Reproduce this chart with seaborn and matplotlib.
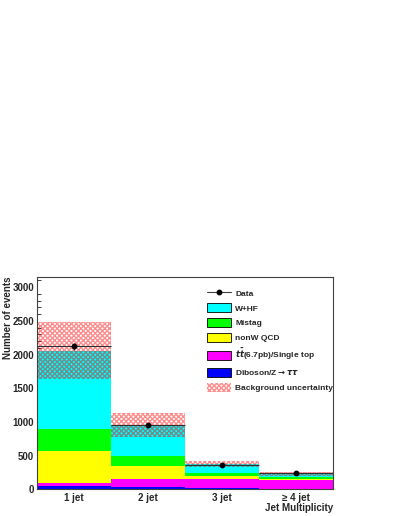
import numpy as np
import pandas as pd
import seaborn as sns
import matplotlib.pyplot as plt
from matplotlib.patches import Patch
from matplotlib.lines import Line2D
from matplotlib.ticker import MultipleLocator

# bins and background components (events per bin)
bins = ['1 jet', '2 jet', '3 jet', '≥ 4 jet']
whf = [1165, 460, 127, 49]
mistag = [325, 145, 50, 21]
nonw_qcd = [470, 200, 48, 19]
top = [55, 115, 137, 131]
diboson = [45, 40, 15, 10]
bkg_unc = [420, 175, 47, 30]
data = [2120, 950, 360, 245]

names = ['W+HF', 'Mistag', 'nonW QCD', r'$t\bar{t}$(6.7pb)/Single top', r'Diboson/Z$\rightarrow\tau\tau$']
colors = ['#00ffff', '#00ff00', '#ffff00', '#ff00ff', '#0000ff']
hatch_col = (1.0, 0.0, 0.0, 0.45)

sns.set_style('white')
plt.rcParams['font.family'] = ['Liberation Sans', 'DejaVu Sans']
plt.rcParams['font.weight'] = 'bold'
plt.rcParams['hatch.linewidth'] = 1.0

rows = []
for name, vals in zip(names, [whf, mistag, nonw_qcd, top, diboson]):
    for i, v in enumerate(vals):
        rows.append({'bin': i, 'comp': name, 'n': v})
df = pd.DataFrame(rows)

fig = plt.figure(figsize=(3.99, 5.16), dpi=100)
ax = fig.add_axes([0.0927, 0.0514, 0.742, 0.4118])

sns.histplot(data=df, x='bin', weights='n', hue='comp', hue_order=names,
             palette=colors, multiple='stack', discrete=True, shrink=1,
             element='bars', fill=True, alpha=1, linewidth=0, legend=False, ax=ax)

# uncertainty band around the stack total
x = np.arange(len(bins))
total = np.sum([whf, mistag, nonw_qcd, top, diboson], axis=0)
unc = np.array(bkg_unc)
ax.bar(x, 2 * unc, bottom=total - unc, width=1, facecolor='none',
       edgecolor=hatch_col, hatch='xxxxxxx', linewidth=0)

# data points
ax.errorbar(x, data, xerr=0.5, yerr=np.sqrt(data), fmt='o', color='black',
            markersize=3.2, ecolor='#303030', elinewidth=0.8, capsize=0)

ax.set_xlim(-0.5, 3.5)
ax.set_ylim(0, 3150)
ax.set_xticks(x)
ax.set_xticklabels(bins)
ax.yaxis.set_major_locator(MultipleLocator(500))
ax.yaxis.set_minor_locator(MultipleLocator(100))
ax.tick_params(axis='y', which='major', direction='in', length=6, width=0.7,
               labelsize=7, pad=2, color='#404040')
ax.tick_params(axis='y', which='minor', direction='in', length=3, width=0.7,
               left=True, color='#404040')
ax.tick_params(axis='x', which='major', direction='in', length=4, width=0.7,
               labelsize=7, pad=2.5, bottom=True, color='#404040')
for s in ax.spines.values():
    s.set_color('#404040')
    s.set_linewidth(0.8)

ax.set_ylabel('Number of events', fontsize=7, fontweight='bold', loc='top')
ax.yaxis.set_label_coords(-0.08, 1.0)
ax.set_xlabel('Jet Multiplicity', fontsize=7, fontweight='bold', loc='right')
ax.xaxis.set_label_coords(1.0, -0.062)

handles = [Line2D([], [], color='#404040', lw=0.8, marker='o', markersize=3.2,
                  markerfacecolor='black', markeredgecolor='black')]
for c in colors:
    handles.append(Patch(facecolor=c, edgecolor='black', linewidth=0.6))
handles.append(Patch(facecolor='none', edgecolor=hatch_col, hatch='xxxxxxx', linewidth=0))
labels = ['Data'] + names + ['Background uncertainty']
fig.legend(handles, labels, loc='upper left', bbox_to_anchor=(0.518, 0.441),
           frameon=False, fontsize=6, handlelength=2.9, handleheight=1.32,
           labelspacing=0.64, handletextpad=0.5, borderpad=0, borderaxespad=0)

fig.savefig('out.png', dpi=100)
